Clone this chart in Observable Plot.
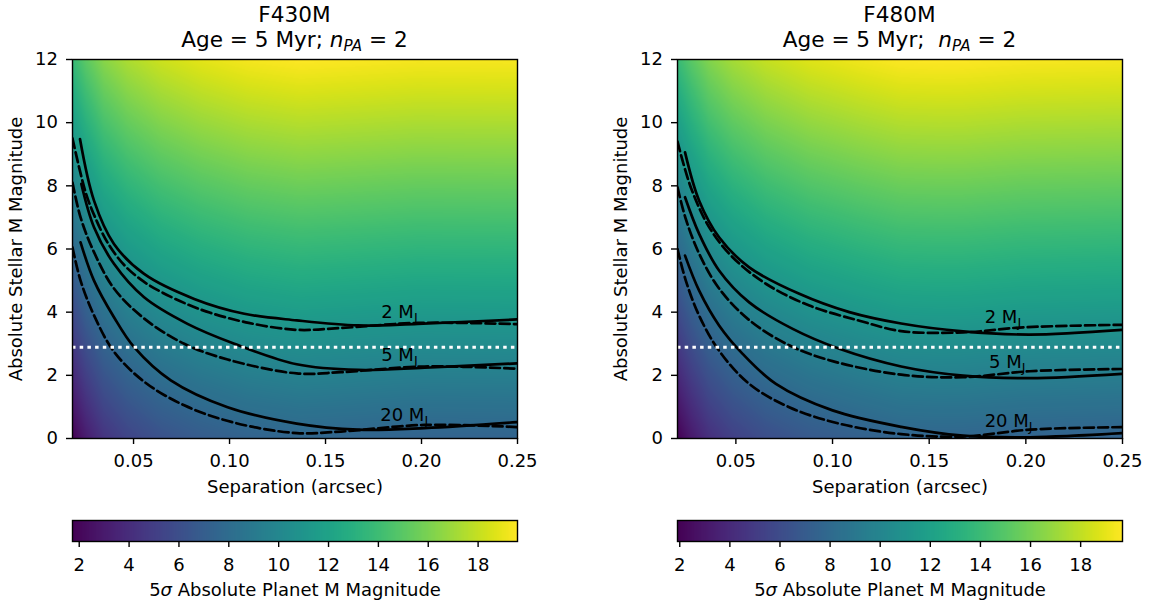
<!DOCTYPE html>
<html><head><meta charset="utf-8">
<script src="https://cdn.jsdelivr.net/npm/d3@7"></script>
<script src="https://cdn.jsdelivr.net/npm/@observablehq/plot@0.6"></script>
<style>
body{margin:0;background:#fff;font-family:"DejaVu Sans",sans-serif;}
#root{position:relative;width:1149px;height:604px;overflow:hidden;background:#fff;}
.title{position:absolute;width:400px;text-align:center;font-size:21.6px;line-height:25px;color:#000;font-family:"DejaVu Sans",sans-serif;white-space:pre;}
.title sub{font-size:0.7em;vertical-align:-0.25em;line-height:0;}
</style></head><body><div id="root"></div>
<script>
// ---------- shared values ----------
const separationTicks = [0.05, 0.10, 0.15, 0.20, 0.25];
const stellarMagTicks = [0, 2, 4, 6, 8, 10, 12];
const colorbarTicks = [2, 4, 6, 8, 10, 12, 14, 16, 18];
const targetStellarMag = 2.89;
const gridStellarMags = [0, 12];

// ---------- F430M ----------
const f430mSepRange = [0.0182, 0.25];
const f430mColorRange = [1.73, 19.58];
const f430mGridSep = [0.0182, 0.025, 0.0346, 0.0468, 0.0642, 0.0851, 0.1094, 0.137, 0.158, 0.198, 0.25];
const f430mPlanetMagAtStar0 = [1.73, 3.05, 4.42, 5.37, 6.21, 6.84, 7.32, 7.58, 7.50, 7.34, 7.38];
const f430mPlanetMagAtStar12 = [13.73, 15.05, 16.42, 17.37, 18.21, 18.84, 19.32, 19.58, 19.50, 19.34, 19.38];
const f430mSolid2 = [[0.0221,9.48],[0.0294,7.53],[0.0398,6.16],[0.0555,5.21],[0.0816,4.42],[0.1077,3.95],[0.135,3.74],[0.167,3.58],[0.198,3.63],[0.25,3.77]];
const f430mDashed2 = [[0.0182,9.5],[0.025,7.8],[0.030,7.0],[0.0365,6.2],[0.045,5.5],[0.055,4.98],[0.065,4.62],[0.078,4.25],[0.09,3.98],[0.11,3.66],[0.135,3.44],[0.158,3.50],[0.198,3.66],[0.25,3.62]];
const f430mSolid5 = [[0.0228,8.06],[0.0294,6.69],[0.0398,5.53],[0.0555,4.47],[0.0781,3.63],[0.1025,3.0],[0.135,2.35],[0.167,2.17],[0.2016,2.24],[0.25,2.38]];
const f430mDashed5 = [[0.0182,8.1],[0.0224,7.0],[0.0294,5.9],[0.0398,4.75],[0.0555,3.8],[0.0764,3.0],[0.099,2.5],[0.135,2.06],[0.158,2.10],[0.2016,2.28],[0.25,2.21]];
const f430mSolid20 = [[0.0224,6.21],[0.0294,5.0],[0.0398,3.84],[0.0503,2.89],[0.0694,1.84],[0.099,0.99],[0.135,0.47],[0.167,0.28],[0.2016,0.33],[0.25,0.52]];
const f430mDashed20 = [[0.0182,6.05],[0.0224,5.0],[0.0294,3.9],[0.0398,2.75],[0.0555,1.8],[0.0764,1.05],[0.1025,0.5],[0.135,0.17],[0.158,0.22],[0.2016,0.43],[0.25,0.36]];
const f430mLabels = [{mass: "2", sep: 0.179, star: 3.83}, {mass: "5", sep: 0.179, star: 2.44}, {mass: "20", sep: 0.1785, star: 0.54}];

// ---------- F480M ----------
const f480mSepRange = [0.0198, 0.25];
const f480mColorRange = [1.91, 19.67];
const f480mGridSep = [0.0198, 0.0267, 0.0362, 0.0483, 0.0655, 0.088, 0.1139, 0.1355, 0.155, 0.1675, 0.1986, 0.25];
const f480mPlanetMagAtStar0 = [1.91, 3.07, 4.33, 5.28, 6.12, 6.81, 7.29, 7.62, 7.67, 7.66, 7.50, 7.42];
const f480mPlanetMagAtStar12 = [13.91, 15.07, 16.33, 17.28, 18.12, 18.81, 19.29, 19.62, 19.67, 19.66, 19.50, 19.42];
const f480mSolid2 = [[0.0237,9.06],[0.031,7.53],[0.0413,6.37],[0.0569,5.42],[0.0828,4.58],[0.1087,4.0],[0.1355,3.64],[0.1675,3.39],[0.202,3.29],[0.25,3.44]];
const f480mDashed2 = [[0.0198,9.4],[0.0267,7.95],[0.0362,6.69],[0.0483,5.74],[0.0655,4.9],[0.088,4.21],[0.1139,3.73],[0.1355,3.40],[0.1675,3.36],[0.1986,3.52],[0.25,3.6]];
const f480mSolid5 = [[0.0237,7.64],[0.031,6.48],[0.0413,5.32],[0.0569,4.31],[0.0794,3.47],[0.1035,2.84],[0.1355,2.28],[0.1675,1.99],[0.202,1.91],[0.25,2.05]];
const f480mDashed5 = [[0.0198,7.95],[0.0241,6.95],[0.031,5.85],[0.0413,4.75],[0.0569,3.75],[0.0776,2.95],[0.1,2.45],[0.1355,2.02],[0.1675,1.94],[0.202,2.13],[0.25,2.2]];
const f480mSolid20 = [[0.0237,5.79],[0.031,4.68],[0.0413,3.58],[0.0535,2.68],[0.0707,1.73],[0.1,0.89],[0.1355,0.37],[0.1675,0.09],[0.202,0.04],[0.25,0.17]];
const f480mDashed20 = [[0.0198,6.0],[0.0241,5.0],[0.031,3.89],[0.0413,2.78],[0.0569,1.73],[0.0776,0.99],[0.1035,0.47],[0.1355,0.14],[0.1675,0.06],[0.202,0.28],[0.25,0.36]];
const f480mLabels = [{mass: "2", sep: 0.1787, star: 3.65}, {mass: "5", sep: 0.181, star: 2.24}, {mass: "20", sep: 0.1787, star: 0.36}];

// ---------- drawing ----------
const root = document.getElementById("root");
const SVGNS = "http://www.w3.org/2000/svg";
function place(el, left, top) {
  el.style.position = "absolute";
  el.style.left = left + "px";
  el.style.top = top + "px";
  root.appendChild(el);
}
const baseStyle = {fontFamily: "DejaVu Sans", fontSize: "18px", background: "transparent", overflow: "visible", color: "black"};

function panel(p) {
  const samples = [];
  const rows = [p.at0, p.at12];
  p.gridSep.forEach((s, i) => gridStellarMags.forEach((m, j) => samples.push({sep: s, star: m, planet: rows[j][i]})));
  const curves = [
    {pts: p.solid2, dashed: false}, {pts: p.dashed2, dashed: true},
    {pts: p.solid5, dashed: false}, {pts: p.dashed5, dashed: true},
    {pts: p.solid20, dashed: false}, {pts: p.dashed20, dashed: true}
  ];
  const chart = Plot.plot({
    width: p.width, height: 450,
    marginLeft: 72, marginRight: p.width - 72 - 445, marginTop: 9, marginBottom: 62,
    style: baseStyle,
    x: {domain: p.sepRange},
    y: {domain: [0, 12]},
    color: {type: "linear", scheme: "viridis", domain: p.colorRange},
    marks: [
      Plot.raster(samples, {x: "sep", y: "star", fill: "planet", interpolate: "barycentric",
        x1: p.sepRange[0], x2: p.sepRange[1], y1: 0, y2: 12}),
      ...curves.map(c => Plot.line(c.pts, {x: d => d[0], y: d => d[1], curve: "catmull-rom",
        stroke: "black", strokeWidth: 2.7, strokeDasharray: c.dashed ? "10,4.3" : undefined, clip: true})),
      Plot.ruleY([targetStellarMag], {stroke: "white", strokeWidth: 3, strokeDasharray: "3.5,4.2"}),
      Plot.text(p.labels, {x: "sep", y: "star", text: d => d.mass + " M", textAnchor: "start",
        lineAnchor: "bottom", fontSize: 18, fill: "black"}),
      Plot.frame({stroke: "black", strokeWidth: 1.4}),
      Plot.axisX(separationTicks, {tickSize: 6, tickPadding: 10, strokeWidth: 1.4, tickFormat: d3.format(".2f"),
        label: "Separation (arcsec)", labelAnchor: "center", labelOffset: 54, labelArrow: "none", fontSize: 18}),
      Plot.axisY(stellarMagTicks, {tickSize: 6, tickPadding: 8.5, strokeWidth: 1.4, tickFormat: d3.format("d"),
        label: "Absolute Stellar M Magnitude", labelAnchor: "center", labelOffset: 63, labelArrow: "none", fontSize: 18})
    ]
  });
  chart.querySelectorAll('text').forEach(t => {
    if (/^\d+ M$/.test(t.textContent)) {
      const ts = document.createElementNS(SVGNS, "tspan");
      ts.setAttribute("font-size", "12.6");
      ts.setAttribute("dy", "4");
      ts.textContent = "J";
      t.appendChild(ts);
    }
  });
  place(chart, p.left, 50);

  const cbar = Plot.plot({
    width: p.width, height: 94,
    marginLeft: 72, marginRight: p.width - 72 - 445, marginTop: 10, marginBottom: 63,
    style: baseStyle,
    x: {domain: p.colorRange},
    y: {domain: [0, 1], axis: null},
    color: {type: "linear", scheme: "viridis", domain: p.colorRange},
    marks: [
      Plot.raster({fill: (x, y) => x, x1: p.colorRange[0], x2: p.colorRange[1], y1: 0, y2: 1}),
      Plot.frame({stroke: "black", strokeWidth: 1.4}),
      Plot.axisX(colorbarTicks, {tickSize: 6, tickPadding: 11, strokeWidth: 1.4, tickFormat: d3.format("d"),
        label: "5σ Absolute Planet M Magnitude", labelAnchor: "center", labelOffset: 54, labelArrow: "none", fontSize: 18})
    ]
  });
  cbar.querySelectorAll('text').forEach(t => {
    if (t.textContent === "5σ Absolute Planet M Magnitude") {
      t.textContent = "5";
      const s = document.createElementNS(SVGNS, "tspan");
      s.setAttribute("font-style", "italic");
      s.textContent = "σ";
      t.appendChild(s);
      const r = document.createElementNS(SVGNS, "tspan");
      r.textContent = " Absolute Planet M Magnitude";
      t.appendChild(r);
    }
  });
  place(cbar, p.left, 510);

  const title = document.createElement("div");
  title.className = "title";
  title.innerHTML = p.titleHTML;
  title.style.left = (p.left + 72 + 222.5 - 200) + "px";
  title.style.top = "2px";
  root.appendChild(title);
}

panel({left: 0, width: 575, sepRange: f430mSepRange, colorRange: f430mColorRange,
  gridSep: f430mGridSep, at0: f430mPlanetMagAtStar0, at12: f430mPlanetMagAtStar12,
  solid2: f430mSolid2, dashed2: f430mDashed2, solid5: f430mSolid5, dashed5: f430mDashed5,
  solid20: f430mSolid20, dashed20: f430mDashed20, labels: f430mLabels,
  titleHTML: 'F430M<br>Age = 5 Myr; <i>n</i><sub><i>PA</i></sub> = 2'});
panel({left: 605, width: 544, sepRange: f480mSepRange, colorRange: f480mColorRange,
  gridSep: f480mGridSep, at0: f480mPlanetMagAtStar0, at12: f480mPlanetMagAtStar12,
  solid2: f480mSolid2, dashed2: f480mDashed2, solid5: f480mSolid5, dashed5: f480mDashed5,
  solid20: f480mSolid20, dashed20: f480mDashed20, labels: f480mLabels,
  titleHTML: 'F480M<br>Age = 5 Myr;  <i>n</i><sub><i>PA</i></sub> = 2'});
</script></body></html>
